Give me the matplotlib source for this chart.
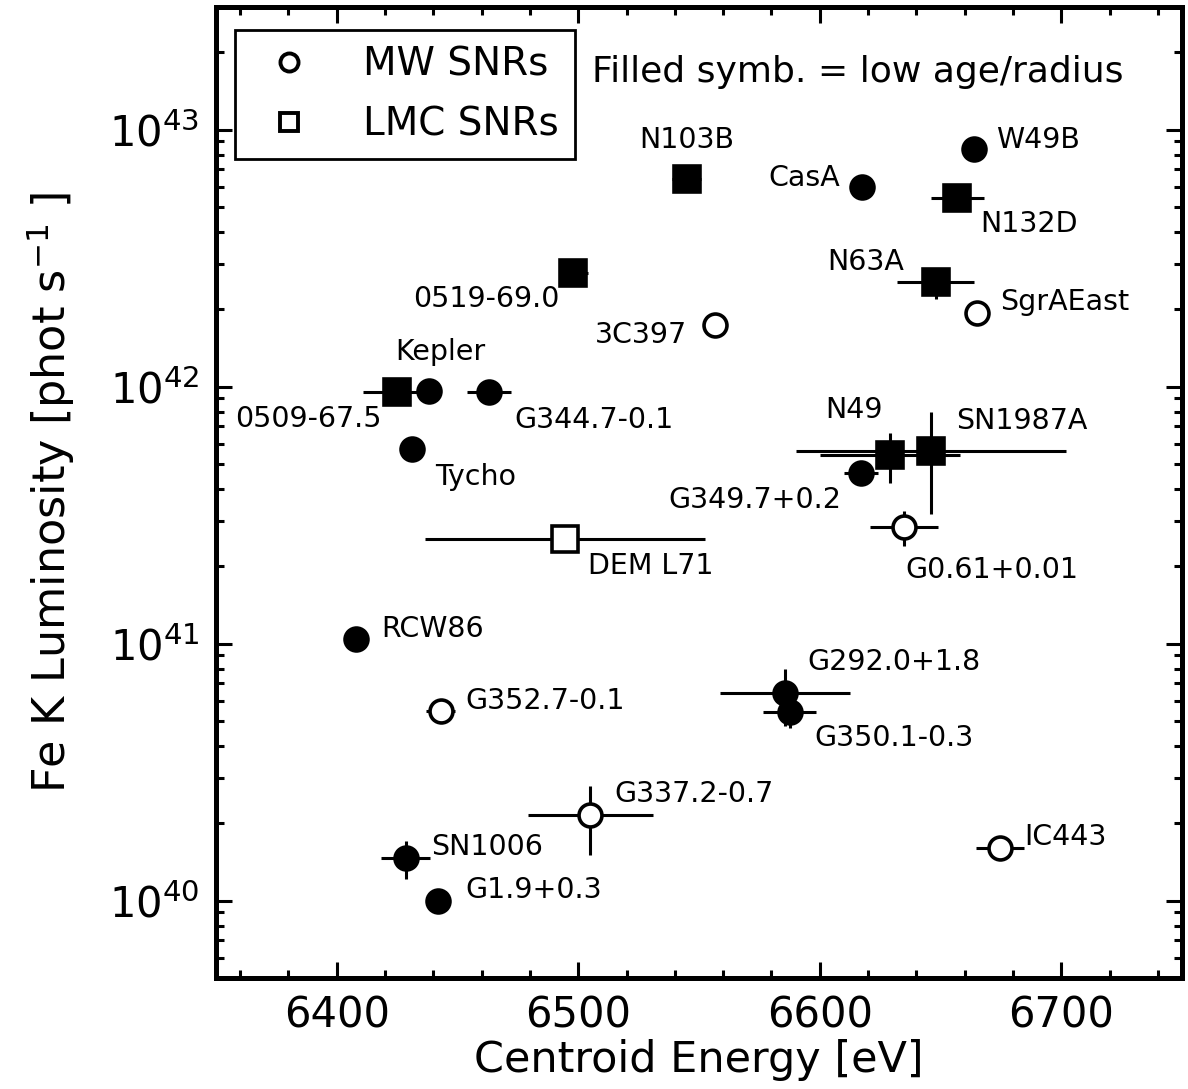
import numpy as np
import matplotlib.pyplot as plt
from matplotlib.lines import Line2D
from matplotlib.ticker import MultipleLocator

# Fe K line centroid vs. luminosity for Galactic and LMC remnants
names = ['W49B', 'CasA', 'N103B', 'N132D', '0519-69.0', 'N63A', 'SgrAEast',
         '3C397', '0509-67.5', 'Kepler', 'G344.7-0.1', 'Tycho', 'N49',
         'SN1987A', 'G349.7+0.2', 'G0.61+0.01', 'DEM L71', 'RCW86',
         'G292.0+1.8', 'G350.1-0.3', 'G352.7-0.1', 'G337.2-0.7', 'IC443',
         'SN1006', 'G1.9+0.3']
energy = [6664, 6617.5, 6545, 6657, 6498, 6648, 6665,
          6556.5, 6425, 6438, 6463, 6431, 6629,
          6646, 6617, 6635, 6494.5, 6408,
          6585.5, 6587.5, 6443, 6505, 6674.5,
          6428.5, 6442]
energy_err = [3, 2, 6, 11, 6, 16, 3,
              3, 14, 2, 9, 2, 29,
              56, 7, 14, 58, 2,
              27, 11, 6, 26, 10,
              10, 2]
lum = [8.4e42, 6.0e42, 6.4e42, 5.4e42, 2.76e42, 2.55e42, 1.93e42,
       1.73e42, 9.5e41, 9.6e41, 9.5e41, 5.7e41, 5.4e41,
       5.6e41, 4.6e41, 2.84e41, 2.55e41, 1.04e41,
       6.4e40, 5.4e40, 5.45e40, 2.15e40, 1.6e40,
       1.46e40, 1.0e40]
lum_err = [0.5e42, 0.3e42, 0.4e42, 0.4e42, 0.2e42, 0.35e42, 0.1e42,
           0.1e42, 0.6e41, 0.5e41, 0.6e41, 0.3e41, 1.2e41,
           2.4e41, 0.3e41, 0.45e41, 0.15e41, 0.05e41,
           1.6e40, 0.7e40, 0.3e40, 0.65e40, 0.1e40,
           0.25e40, 0.05e40]
galaxy = ['MW', 'MW', 'LMC', 'LMC', 'LMC', 'LMC', 'MW',
          'MW', 'LMC', 'MW', 'MW', 'MW', 'LMC',
          'LMC', 'MW', 'MW', 'LMC', 'MW',
          'MW', 'MW', 'MW', 'MW', 'MW',
          'MW', 'MW']
young = [True, True, True, True, True, True, False,
         False, True, True, True, True, True,
         True, True, False, False, True,
         True, True, False, False, False,
         True, True]

# label placement: offset in pixels from the point, horizontal alignment
label_pos = {
    'W49B': (22, 9, 'left'), 'CasA': (-22, 9, 'right'),
    'N103B': (0, 39, 'center'), 'N132D': (23, -26, 'left'),
    '0519-69.0': (-14, -26, 'right'), 'N63A': (-32, 20, 'right'),
    'SgrAEast': (23, 11, 'left'), '3C397': (-28, -10, 'right'),
    '0509-67.5': (-15, -27, 'right'), 'Kepler': (12, 39, 'center'),
    'G344.7-0.1': (25, -28, 'left'), 'Tycho': (24, -28, 'left'),
    'N49': (-36, 45, 'center'), 'SN1987A': (25, 30, 'left'),
    'G349.7+0.2': (-19, -27, 'right'), 'G0.61+0.01': (1, -43, 'left'),
    'DEM L71': (23, -27, 'left'), 'RCW86': (25, 10, 'left'),
    'G292.0+1.8': (23, 31, 'left'), 'G350.1-0.3': (25, -26, 'left'),
    'G352.7-0.1': (25, 10, 'left'), 'G337.2-0.7': (24, 21, 'left'),
    'IC443': (25, 11, 'left'), 'SN1006': (26, 11, 'left'),
    'G1.9+0.3': (27, 11, 'left'),
}

fig = plt.figure(figsize=(11.88, 10.89), dpi=100)
ax = fig.add_axes([0.1818, 0.1019, 0.8132, 0.8917])

for i, name in enumerate(names):
    marker = 'o' if galaxy[i] == 'MW' else 's'
    size = 16.5 if marker == 'o' else 18.5
    face = 'black' if young[i] else 'white'
    ax.errorbar(energy[i], lum[i], xerr=energy_err[i], yerr=lum_err[i],
                fmt=marker, ms=size, mfc=face, mec='black', mew=2.6,
                ecolor='black', elinewidth=2.2, capsize=0, zorder=3)
    dx, dy, ha = label_pos[name]
    ax.annotate(name, (energy[i], lum[i]), xytext=(dx, dy),
                textcoords='offset pixels', ha=ha, va='center',
                fontsize=20.5, zorder=4)

ax.set_yscale('log')
ax.set_xlim(6350, 6750)
ax.set_ylim(5e39, 3e43)
ax.xaxis.set_major_locator(MultipleLocator(100))
ax.xaxis.set_minor_locator(MultipleLocator(20))

ax.tick_params(which='both', direction='in', top=True, right=True,
               labelsize=30, width=2.2, pad=12)
ax.tick_params(which='major', length=11.5)
ax.tick_params(which='minor', length=5.8)
for sp in ax.spines.values():
    sp.set_linewidth(3.6)

ax.set_xlabel('Centroid Energy [eV]', fontsize=31, labelpad=2)
ax.set_ylabel('Fe K Luminosity [phot s$^{-1}$ ]', fontsize=32, labelpad=23)

handles = [
    Line2D([], [], ls='none', marker='o', ms=13, mfc='white', mec='black', mew=2.8),
    Line2D([], [], ls='none', marker='s', ms=13, mfc='white', mec='black', mew=2.8),
]
leg = ax.legend(handles, ['MW SNRs', 'LMC SNRs'], loc='upper left',
                bbox_to_anchor=(0.0197, 0.976), borderaxespad=0,
                fontsize=28, frameon=True, fancybox=False, framealpha=1,
                edgecolor='black', handlelength=2.0, handletextpad=0.9,
                labelspacing=0.55, borderpad=0.4)
leg.get_frame().set_linewidth(2.0)

ax.text(0.389, 0.933, 'Filled symb. = low age/radius', transform=ax.transAxes,
        fontsize=26, ha='left', va='center')

fig.savefig('out.png', dpi=100)
